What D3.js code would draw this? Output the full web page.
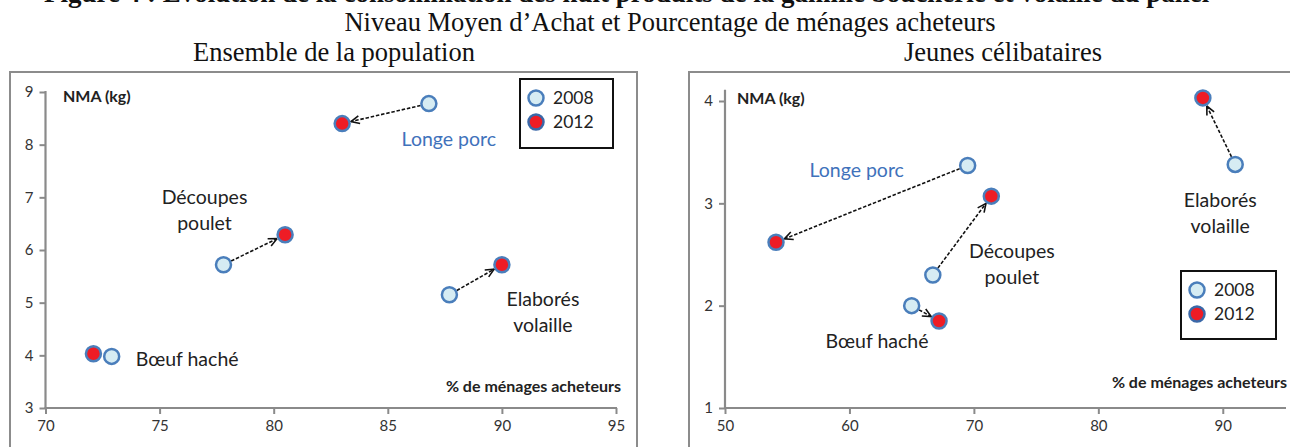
<!DOCTYPE html>
<html>
<head>
<meta charset="utf-8">
<script src="https://cdn.jsdelivr.net/npm/d3@7"></script>
<style>
  html, body { margin: 0; padding: 0; background: #fff; }
  svg { display: block; }
</style>
</head>
<body>
<div id="chart"></div>
<script>
// Products followed in both panels
const products = ["Longe porc", "Découpes poulet", "Elaborés volaille", "Bœuf haché"];
const years = ["2008", "2012"];

// Ensemble de la population: % de ménages acheteurs / NMA (kg)
const allPct2008 = [86.8, 77.8, 87.7, 72.9];
const allNma2008 = [8.78, 5.72, 5.15, 3.98];
const allPct2012 = [83.0, 80.5, 90.0, 72.1];
const allNma2012 = [8.40, 6.29, 5.72, 4.03];

// Jeunes célibataires: % de ménages acheteurs / NMA (kg)
const youngPct2008 = [69.5, 66.7, 91.0, 65.0];
const youngNma2008 = [3.37, 2.30, 3.38, 2.00];
const youngPct2012 = [54.1, 71.4, 88.4, 67.2];
const youngNma2012 = [2.62, 3.07, 4.03, 1.85];

// Axis ticks
const allXTicks = [70, 75, 80, 85, 90, 95];
const allYTicks = [3, 4, 5, 6, 7, 8, 9];
const youngXTicks = [50, 60, 70, 80, 90];
const youngYTicks = [1, 2, 3, 4];

const W = 1290, H = 447;
const SANS = "Lato, 'Open Sans', sans-serif";
const SERIF = "'Liberation Serif', 'Times New Roman', serif";
const C2008 = "#d6ecf3", C2012 = "#ee1c25", CSTROKE = "#4a7ebb";
const LABEL_BLUE = "#3f72bb", TEXT = "#222";

const svg = d3.select("#chart").append("svg")
  .attr("width", W).attr("height", H);

svg.append("defs").append("marker")
  .attr("id", "head").attr("viewBox", "0 0 10 10")
  .attr("refX", 9.5).attr("refY", 5)
  .attr("markerWidth", 10).attr("markerHeight", 10)
  .attr("markerUnits", "userSpaceOnUse")
  .attr("orient", "auto")
  .append("path").attr("d", "M1,1 L9.5,5 L1,9")
  .attr("fill", "none").attr("stroke", "#111").attr("stroke-width", 1.6);

// Figure titles (the first line runs off the top of the page)
svg.append("text").attr("x", 44).attr("y", 2)
  .attr("font-family", SERIF).attr("font-weight", "bold").attr("font-size", 27)
  .attr("fill", "#111")
  .text("Figure 4 : Evolution de la consommation des huit produits de la gamme boucherie et volaille du panel");
svg.append("text").attr("x", 670).attr("y", 31).attr("text-anchor", "middle")
  .attr("font-family", SERIF).attr("font-size", 26.5).attr("fill", "#111")
  .text("Niveau Moyen d’Achat et Pourcentage de ménages acheteurs");

const panels = [
  {
    title: "Ensemble de la population", titleX: 334,
    box: [10, 72, 627], x0: 45.5, x1: 616, yTop: 92, yBot: 408,
    xDomain: [70, 95], yDomain: [3, 9], xTicks: allXTicks, yTicks: allYTicks,
    pct08: allPct2008, nma08: allNma2008, pct12: allPct2012, nma12: allNma2012,
    arrows: [true, true, true, false],
    // label anchor: which year's point, pixel offset, anchor
    labels: [
      { ref: 0, dx: 20, dy: 36, anchor: "middle", blue: true },
      { ref: 0, dx: -19, dy: -68, anchor: "middle" },
      { ref: 1, dx: 41, dy: 34, anchor: "middle" },
      { ref: 0, dx: 24, dy: 3, anchor: "start" }
    ],
    nmaX: 63, nmaY: 96, pctX: 621, pctY: 386,
    legend: [520, 79, 93, 69]
  },
  {
    title: "Jeunes célibataires", titleX: 1003,
    box: [689, 72, 620], x0: 725, x1: 1285, yTop: 101, yBot: 408,
    xDomain: [50, 95], yDomain: [1, 4], yMax: 4.1, xTicks: youngXTicks, yTicks: youngYTicks,
    pct08: youngPct2008, nma08: youngNma2008, pct12: youngPct2012, nma12: youngNma2012,
    arrows: [true, true, true, true],
    labels: [
      { ref: 0, dx: -111, dy: 5, anchor: "middle", blue: true },
      { ref: 0, dx: 79, dy: -24, anchor: "middle" },
      { ref: 0, dx: -15, dy: 36, anchor: "middle" },
      { ref: 1, dx: -62, dy: 20, anchor: "middle" }
    ],
    nmaX: 737, nmaY: 98, pctX: 1287, pctY: 382,
    legend: [1181, 271, 95, 68]
  }
];

const labelLines = ["Longe porc", "Découpes\npoulet", "Elaborés\nvolaille", "Bœuf haché"];

panels.forEach(p => {
  const g = svg.append("g");

  g.append("text").attr("x", p.titleX).attr("y", 61).attr("text-anchor", "middle")
    .attr("font-family", SERIF).attr("font-size", 26.5).attr("fill", "#111")
    .text(p.title);

  g.append("rect").attr("x", p.box[0]).attr("y", p.box[1])
    .attr("width", p.box[2]).attr("height", 420)
    .attr("fill", "none").attr("stroke", "#8c8c8c").attr("stroke-width", 2);

  const x = d3.scaleLinear().domain(p.xDomain).range([p.x0, p.x1]);
  const yLo = p.yDomain[0], yHi = p.yDomain[1];
  const y = d3.scaleLinear().domain([yLo, yHi]).range([p.yBot, p.yTop]);
  const yMax = p.yMax || yHi;

  // Axes
  const xAxis = g.append("g").attr("transform", `translate(0,${p.yBot})`)
    .call(d3.axisBottom(x).tickValues(p.xTicks).tickSize(6).tickPadding(6).tickFormat(d3.format("d")));
  const yAxis = g.append("g").attr("transform", `translate(${p.x0},0)`)
    .call(d3.axisLeft(y).tickValues(p.yTicks).tickSize(6).tickPadding(6).tickFormat(d3.format("d")));
  [xAxis, yAxis].forEach(a => {
    a.select(".domain").remove();
    a.selectAll(".tick line").attr("stroke", "#8a8a8a").attr("stroke-width", 2);
    a.selectAll(".tick text").attr("font-family", SANS).attr("font-size", 15).attr("fill", "#333");
  });
  g.append("line").attr("x1", x(p.xDomain[0]) - 1).attr("x2", x(p.xDomain[1]) + 1)
    .attr("y1", p.yBot).attr("y2", p.yBot).attr("stroke", "#8a8a8a").attr("stroke-width", 2.2);
  g.append("line").attr("x1", p.x0).attr("x2", p.x0)
    .attr("y1", p.yBot + 1).attr("y2", y(yMax) - 1).attr("stroke", "#8a8a8a").attr("stroke-width", 2.2);

  // Axis titles
  g.append("text").attr("x", p.nmaX).attr("y", p.nmaY).attr("dy", "0.35em")
    .attr("font-family", SANS).attr("font-weight", "bold").attr("font-size", 16).attr("fill", TEXT)
    .text("NMA (kg)");
  g.append("text").attr("x", p.pctX).attr("y", p.pctY).attr("dy", "0.35em").attr("text-anchor", "end")
    .attr("font-family", SANS).attr("font-weight", "bold").attr("font-size", 16).attr("fill", TEXT)
    .text("% de ménages acheteurs");

  const R = 7.5;
  const pts = products.map((name, i) => ({
    name, i,
    a: [x(p.pct08[i]), y(p.nma08[i])],
    b: [x(p.pct12[i]), y(p.nma12[i])]
  }));

  // Dashed arrows from 2008 to 2012
  pts.filter(d => p.arrows[d.i]).forEach(d => {
    const dx = d.b[0] - d.a[0], dy = d.b[1] - d.a[1];
    const len = Math.hypot(dx, dy), ux = dx / len, uy = dy / len;
    g.append("line")
      .attr("x1", d.a[0] + ux * (R + 1)).attr("y1", d.a[1] + uy * (R + 1))
      .attr("x2", d.b[0] - ux * (R + 1.5)).attr("y2", d.b[1] - uy * (R + 1.5))
      .attr("stroke", "#111").attr("stroke-width", 1.6)
      .attr("stroke-dasharray", "3.5,1.8")
      .attr("marker-end", "url(#head)");
  });

  // Markers
  g.selectAll("circle.y08").data(pts).join("circle").attr("class", "y08")
    .attr("cx", d => d.a[0]).attr("cy", d => d.a[1]).attr("r", R)
    .attr("fill", C2008).attr("stroke", CSTROKE).attr("stroke-width", 2.5);
  g.selectAll("circle.y12").data(pts).join("circle").attr("class", "y12")
    .attr("cx", d => d.b[0]).attr("cy", d => d.b[1]).attr("r", R)
    .attr("fill", C2012).attr("stroke", CSTROKE).attr("stroke-width", 2.5);

  // Product labels
  pts.forEach(d => {
    const L = p.labels[d.i];
    const base = L.ref === 0 ? d.a : d.b;
    const lines = labelLines[d.i].split("\n");
    const t = g.append("text")
      .attr("font-family", SANS).attr("font-size", 19.5)
      .attr("fill", L.blue ? LABEL_BLUE : TEXT)
      .attr("text-anchor", L.anchor);
    lines.forEach((ln, k) => {
      t.append("tspan").attr("x", base[0] + L.dx).attr("y", base[1] + L.dy + k * 26)
        .attr("dy", "0.35em").text(ln);
    });
  });

  // Legend
  const [lx, ly, lw, lh] = p.legend;
  const leg = g.append("g");
  leg.append("rect").attr("x", lx).attr("y", ly).attr("width", lw).attr("height", lh)
    .attr("fill", "#fff").attr("stroke", "#111").attr("stroke-width", 2);
  years.forEach((yr, k) => {
    const cy = ly + 19 + k * 24;
    leg.append("circle").attr("cx", lx + 16).attr("cy", cy).attr("r", R)
      .attr("fill", k === 0 ? C2008 : C2012).attr("stroke", k === 0 ? CSTROKE : "#3a68a8")
      .attr("stroke-width", 2.5);
    leg.append("text").attr("x", lx + 33).attr("y", cy).attr("dy", "0.35em")
      .attr("font-family", SANS).attr("font-size", 17.5).attr("fill", TEXT).text(yr);
  });
});
</script>
</body>
</html>
